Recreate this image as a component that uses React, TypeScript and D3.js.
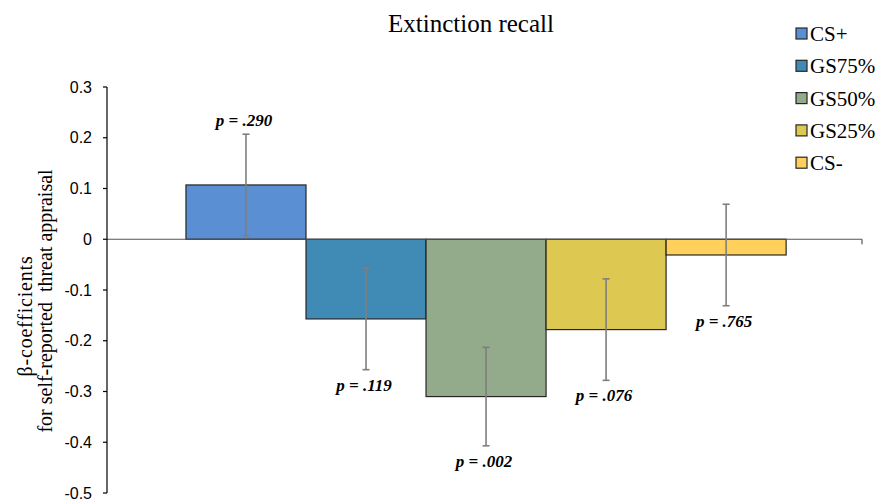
import React from "react";
import * as d3 from "d3";

const categories = ["Extinction recall"];
const series = ["CS+", "GS75%", "GS50%", "GS25%", "CS-"];
const values = [0.107, -0.157, -0.31, -0.178, -0.031];
const errors = [0.1, 0.1, 0.097, 0.1, 0.1];
const pLabels = ["p = .290", "p = .119", "p = .002", "p = .076", "p = .765"];
const colors = ["#5B8FD3", "#3F8BB5", "#93AA8B", "#DDC952", "#FFD15C"];
const yTicks = [0.3, 0.2, 0.1, 0, -0.1, -0.2, -0.3, -0.4, -0.5];

const W = 877;
const H = 502;
const SERIF = "'Liberation Serif', 'Times New Roman', serif";
const SANS = "'Liberation Sans', Arial, sans-serif";

export default function App() {
  const y = d3.scaleLinear().domain([-0.5, 0.3]).range([493, 87]);
  const x0 = d3
    .scaleBand()
    .domain(categories)
    .range([107, 862])
    .paddingInner(0)
    .paddingOuter(0.129)
    .align(0.51);
  const x1 = d3.scaleBand().domain(series).range([0, x0.bandwidth()]).padding(0);
  const fmt = (v: number) => (v === 0 ? "0" : (v < 0 ? "-" : "") + Math.abs(v).toFixed(1));
  const left = 107;
  const right = 862;

  return (
    <svg width={W} height={H} style={{ position: "absolute", left: 0, top: 0, background: "#fff" }}>
      <text x={471} y={32} textAnchor="middle" fontFamily={SERIF} fontSize={25} fill="#000">
        Extinction recall
      </text>

      {/* bars */}
      {series.map((s, i) => {
        const bx = (x0(categories[0]) ?? 0) + (x1(s) ?? 0);
        const v = values[i];
        const y0 = y(0);
        const yv = y(v);
        return (
          <rect
            key={s}
            x={bx}
            y={Math.min(y0, yv)}
            width={x1.bandwidth()}
            height={Math.abs(yv - y0)}
            fill={colors[i]}
            stroke="#262626"
            strokeWidth={1.2}
          />
        );
      })}

      {/* x axis line at zero */}
      <line x1={left} x2={right} y1={y(0)} y2={y(0)} stroke="#555" strokeWidth={1.2} />
      <line x1={right} x2={right} y1={y(0)} y2={y(0) + 5} stroke="#555" strokeWidth={1.2} />

      {/* error bars */}
      {series.map((s, i) => {
        const cx = (x0(categories[0]) ?? 0) + (x1(s) ?? 0) + x1.bandwidth() / 2;
        const hi = y(values[i] + errors[i]);
        const lo = y(values[i] - errors[i]);
        return (
          <g key={s} stroke="#7f7f7f" strokeWidth={1.6}>
            <line x1={cx} x2={cx} y1={hi} y2={lo} />
            <line x1={cx - 3.5} x2={cx + 3.5} y1={hi} y2={hi} />
            <line x1={cx - 3.5} x2={cx + 3.5} y1={lo} y2={lo} />
          </g>
        );
      })}

      {/* p labels */}
      {series.map((s, i) => {
        const cx = (x0(categories[0]) ?? 0) + (x1(s) ?? 0) + x1.bandwidth() / 2 - 2;
        const above = values[i] > 0;
        const ly = above ? y(values[i] + errors[i]) - 8 : y(values[i] - errors[i]) + 21;
        return (
          <text
            key={s}
            x={cx}
            y={ly}
            textAnchor="middle"
            fontFamily={SERIF}
            fontSize={17}
            fontWeight="bold"
            fontStyle="italic"
            fill="#000"
          >
            {pLabels[i]}
          </text>
        );
      })}

      {/* y axis */}
      <line x1={left} x2={left} y1={y(0.3)} y2={y(-0.5)} stroke="#000" strokeWidth={1.2} />
      {yTicks.map((t) => (
        <g key={t}>
          <line x1={left - 4} x2={left} y1={y(t)} y2={y(t)} stroke="#000" strokeWidth={1.2} />
          <text
            x={92}
            y={y(t) + 5.5}
            textAnchor="end"
            fontFamily={SANS}
            fontSize={16}
            fill="#000"
          >
            {fmt(t)}
          </text>
        </g>
      ))}

      {/* y axis title */}
      <text
        transform={`translate(32, 316) rotate(-90)`}
        textAnchor="middle"
        fontFamily={SERIF}
        fontSize={20}
        letterSpacing={0.8}
        fill="#000"
      >
        β-coefficients
      </text>
      <text
        transform={`translate(52, 301) rotate(-90)`}
        textAnchor="middle"
        fontFamily={SERIF}
        fontSize={20}
        fill="#000"
        style={{ whiteSpace: "pre" }}
      >
        {"for self-reported  threat appraisal"}
      </text>

      {/* legend */}
      {series.map((s, i) => {
        const cy = 34 + i * 32.3;
        return (
          <g key={s}>
            <rect x={796} y={cy - 6} width={11} height={11} fill={colors[i]} stroke="#262626" strokeWidth={1.2} />
            <text x={810} y={cy + 7} fontFamily={SERIF} fontSize={21} fill="#000">
              {s}
            </text>
          </g>
        );
      })}
    </svg>
  );
}
